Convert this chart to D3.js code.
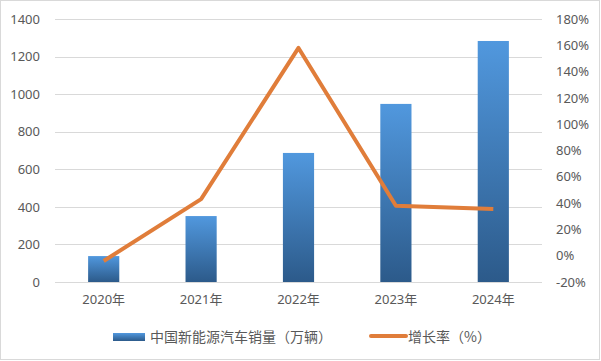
<!DOCTYPE html>
<html>
<head>
<meta charset="utf-8">
<script src="https://cdn.jsdelivr.net/npm/d3@7"></script>
<style>
  body { margin: 0; background: #fff; }
  text { font-family: "Noto Sans", "Noto Sans CJK SC", sans-serif; fill: #595959; }
</style>
</head>
<body>
<div id="chart"></div>
<script>
// data
let years = ["2020年", "2021年", "2022年", "2023年", "2024年"];
let sales = [138, 351, 687, 948, 1283];
let growth = [-4, 43, 158, 38, 35.5];
let leftTicks = [0, 200, 400, 600, 800, 1000, 1200, 1400];
let rightTicks = [-20, 0, 20, 40, 60, 80, 100, 120, 140, 160, 180];
let barName = "中国新能源汽车销量（万辆）";
let lineName = "增长率（%）";

let width = 601, height = 361;
let margin = {top: 19, right: 59, bottom: 79, left: 55};

let svg = d3.select("#chart").append("svg")
    .attr("width", width)
    .attr("height", height);

//outer frame
svg.append("rect")
    .attr("x", 0.5).attr("y", 0.5)
    .attr("width", width - 2).attr("height", height - 2)
    .attr("fill", "#fff")
    .attr("stroke", "#d9d9d9");

let defs = svg.append("defs");
let grad = defs.append("linearGradient")
    .attr("id", "barGrad")
    .attr("x1", 0).attr("y1", 0).attr("x2", 0).attr("y2", 1);
grad.append("stop").attr("offset", "0%").attr("stop-color", "#5198de");
grad.append("stop").attr("offset", "100%").attr("stop-color", "#2c5a8a");

let legGrad = defs.append("linearGradient")
    .attr("id", "legGrad")
    .attr("x1", 0).attr("y1", 0).attr("x2", 0).attr("y2", 1);
legGrad.append("stop").attr("offset", "0%").attr("stop-color", "#5198de");
legGrad.append("stop").attr("offset", "100%").attr("stop-color", "#2c5a8a");

let x = d3.scaleBand()
    .domain(years)
    .range([margin.left, width - margin.right])
    .paddingInner(0.68)
    .paddingOuter(0.34);

let yLeft = d3.scaleLinear()
    .domain([0, 1400])
    .range([height - margin.bottom, margin.top]);

let yRight = d3.scaleLinear()
    .domain([-20, 180])
    .range([height - margin.bottom, margin.top]);

//gridlines
svg.append("g").selectAll("line").data(leftTicks)
    .enter().append("line")
    .attr("x1", margin.left)
    .attr("x2", width - margin.right)
    .attr("y1", d => Math.round(yLeft(d)) + 0.5)
    .attr("y2", d => Math.round(yLeft(d)) + 0.5)
    .attr("stroke", "#d9d9d9")
    .attr("stroke-width", 1);

//left axis
let leftAxis = svg.append("g")
    .attr("transform", "translate(" + (margin.left - 15) + ",0)")
    .call(d3.axisLeft(yLeft).tickValues(leftTicks).tickSize(0).tickPadding(0)
        .tickFormat(d3.format("d")));
leftAxis.select(".domain").remove();
leftAxis.selectAll("text")
    .style("font-size", "13px")
    .attr("fill", "#595959");

//right axis
let rightAxis = svg.append("g")
    .attr("transform", "translate(" + (width - margin.right + 14) + ",0)")
    .call(d3.axisRight(yRight).tickValues(rightTicks).tickSize(0).tickPadding(0)
        .tickFormat(d => d + "%"));
rightAxis.select(".domain").remove();
rightAxis.selectAll("text")
    .style("font-size", "13px")
    .attr("fill", "#595959");

//bars
svg.append("g").selectAll("rect").data(sales)
    .enter().append("rect")
    .attr("x", (d, i) => x(years[i]))
    .attr("y", d => yLeft(d))
    .attr("width", x.bandwidth())
    .attr("height", d => yLeft(0) - yLeft(d))
    .attr("fill", "url(#barGrad)");

//category labels
let bottomAxis = svg.append("g")
    .attr("transform", "translate(0," + (height - margin.bottom + 13) + ")")
    .call(d3.axisBottom(x).tickSize(0).tickPadding(0));
bottomAxis.select(".domain").remove();
bottomAxis.selectAll("text")
    .style("font-size", "13px")
    .attr("fill", "#595959");

//growth line
let line = d3.line()
    .x((d, i) => x(years[i]) + x.bandwidth() / 2)
    .y(d => yRight(d));

svg.append("path")
    .datum(growth)
    .attr("d", line)
    .attr("fill", "none")
    .attr("stroke", "#e07d3a")
    .attr("stroke-width", 4)
    .attr("stroke-linejoin", "round");

//legend
let legend = svg.append("g");
legend.append("rect")
    .attr("x", 113).attr("y", 333)
    .attr("width", 32).attr("height", 8)
    .attr("fill", "url(#legGrad)");
legend.append("text")
    .attr("x", 150).attr("y", 337)
    .attr("dy", "0.35em")
    .style("font-size", "14px")
    .style("font-family", "'Noto Sans CJK SC', sans-serif")
    .text(barName);
legend.append("line")
    .attr("x1", 371).attr("x2", 406)
    .attr("y1", 336).attr("y2", 336)
    .attr("stroke", "#e07d3a")
    .attr("stroke-width", 4)
    .attr("stroke-linecap", "round");
legend.append("text")
    .attr("x", 408).attr("y", 337)
    .attr("dy", "0.35em")
    .style("font-size", "14px")
    .style("font-family", "'Noto Sans CJK SC', sans-serif")
    .text(lineName);
</script>
</body>
</html>
